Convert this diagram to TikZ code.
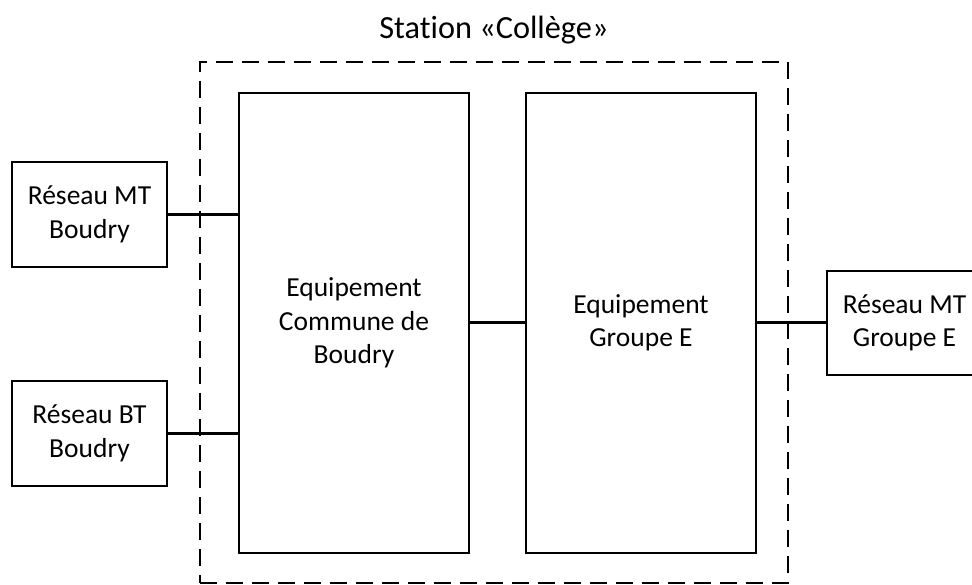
\documentclass[tikz,border=0pt]{standalone}
\usepackage{fontspec}
\setmainfont{Carlito}[Ligatures={NoCommon}]
\begin{document}
\begin{tikzpicture}[x=1pt,y=-1pt,
  box/.style={draw=black,line width=1.4pt,rectangle,inner sep=0pt,align=center,
    font=\fontsize{27.5}{33.5}\selectfont},
  frame/.style={draw=black,line width=2pt,dash pattern=on 17pt off 9pt,rectangle,inner sep=0pt},
  link/.style={draw=black,line width=3pt},
  titletext/.style={font=\fontsize{32.3}{39}\selectfont,inner sep=0pt}]
\useasboundingbox (0,0) rectangle (972,585);
\node[frame,minimum width=588pt,minimum height=521pt] (station) at (494,322.5) {};
\node[titletext] (title) at (494,30) {Station «Collège»};
\node[box,minimum width=155pt,minimum height=105pt] (mtb) at (89.5,214.5) {Réseau MT\\Boudry};
\node[box,minimum width=155pt,minimum height=105pt] (btb) at (89.5,433.5) {Réseau BT\\Boudry};
\node[box,minimum width=230pt,minimum height=460pt] (eqb) at (354,323) {Equipement\\Commune de\\Boudry};
\node[box,minimum width=230pt,minimum height=460pt] (eqg) at (641,323) {Equipement\\Groupe E};
\node[box,minimum width=155pt,minimum height=104pt] (mtg) at (904.5,323) {Réseau MT\\Groupe E};
\draw[link] (mtb.east) -- (mtb.east -| eqb.west);
\draw[link] (btb.east) -- (btb.east -| eqb.west);
\draw[link] (eqb.east) -- (eqg.west);
\draw[link] (eqg.east) -- (mtg.west);
\end{tikzpicture}
\end{document}
